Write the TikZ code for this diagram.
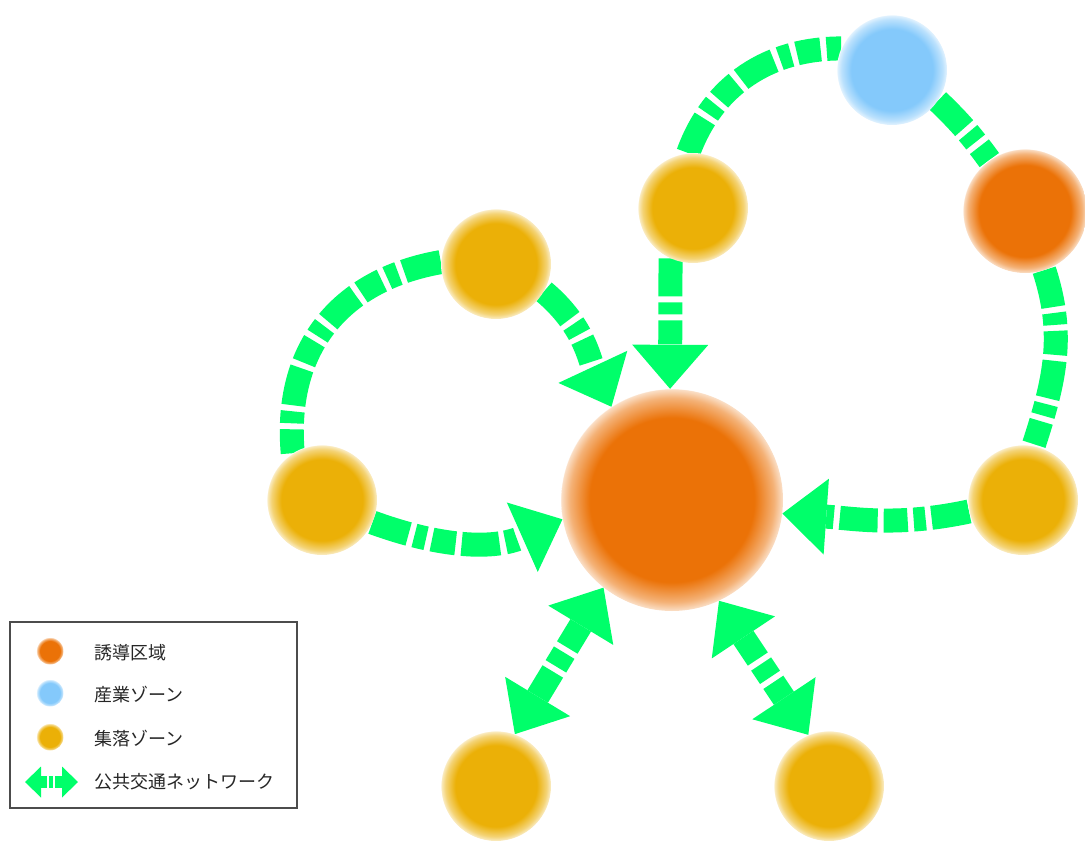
\documentclass[tikz,border=0pt]{standalone}
\usepackage{fontspec}
\newfontfamily\jpfont{Noto Sans CJK JP}
\usetikzlibrary{arrows.meta,backgrounds}

\definecolor{netgreen}{HTML}{00FF6A}
\definecolor{hubcol}{HTML}{EB7207}
\definecolor{vilcol}{HTML}{EBB007}
\definecolor{indcol}{HTML}{84C9FB}

\pgfdeclareradialshading{hubglow}{\pgfpoint{0bp}{0bp}}{color(0bp)=(hubcol); color(18.5bp)=(hubcol); color(23bp)=(hubcol!55!white); color(25bp)=(hubcol!22!white); color(25.2bp)=(white); color(50bp)=(white)}
\pgfdeclareradialshading{vilglow}{\pgfpoint{0bp}{0bp}}{color(0bp)=(vilcol); color(18.5bp)=(vilcol); color(23bp)=(vilcol!55!white); color(25bp)=(vilcol!22!white); color(25.2bp)=(white); color(50bp)=(white)}
\pgfdeclareradialshading{indglow}{\pgfpoint{0bp}{0bp}}{color(0bp)=(indcol); color(18.5bp)=(indcol); color(23bp)=(indcol!55!white); color(25bp)=(indcol!22!white); color(25.2bp)=(white); color(50bp)=(white)}

\begin{document}
\begin{tikzpicture}[x=1pt,y=-1pt,>={Triangle[width=76pt,length=44pt,line width=0pt]},
    net/.style={draw=netgreen,line width=24pt,dash pattern=on 38pt off 6pt on 12pt off 6pt on 24pt off 6pt},
    dbl/.style={draw=netgreen,line width=24pt,dash pattern=on 26pt off 6pt on 16pt off 6pt on 80pt off 0pt}]
    \tikzstyle{zone}=[circle,inner sep=0pt,minimum size=110pt,shade]
    \tikzstyle{hubzone}=[zone,shading=hubglow]
    \tikzstyle{vilzone}=[zone,shading=vilglow]
    \tikzstyle{indzone}=[zone,shading=indglow]
    \tikzstyle{legtext}=[anchor=west,inner sep=0pt,font=\jpfont\fontsize{18}{20}\selectfont,text=black!85]

    \useasboundingbox (0,0) rectangle (1085,841);

    % zones
    \node[hubzone,minimum size=222pt] (hub) at (672,500) {};
    \node[vilzone] (vnw) at (496,264) {};
    \node[vilzone] (vw)  at (322,500) {};
    \node[vilzone] (vn)  at (693,208) {};
    \node[indzone] (ind) at (892,70)  {};
    \node[hubzone,minimum size=124pt] (ne) at (1025,211) {};
    \node[vilzone] (ve)  at (1023,500) {};
    \node[vilzone] (vsw) at (496,786) {};
    \node[vilzone] (vse) at (829,786) {};

    % public transport network
    \begin{scope}[on background layer]
    \draw[net,->] (vw.-24) to[out=-20,in=204] (hub.190);
    \draw[net] (vnw.178) to[out=190,in=95,looseness=1.1] (vw.122);
    \draw[net,->] (vnw.-30) to[out=-40,in=115] (hub.123);
    \draw[net,->] (vn.-114) -- (hub.91);
    \draw[net] (vn.95) to[out=70,in=180] (ind.157);
    \draw[net] (ind.-34) to[bend left=5] (ne.125);
    \draw[net] (ne.-72) to[out=-72,in=72] (ve.79);
    \draw[net,->] (ve.192) to[out=192,in=-4] (hub.-7);
    \draw[dbl,<->] (hub.232) -- (vsw.70);
    \draw[dbl,<->] (hub.-65) -- (vse.112);
    \end{scope}

    % legend
    \draw[black!70,line width=1.6pt] (10,622) rectangle (297,808);
    \node[hubzone,minimum size=27pt] (lhub) at (50,651) {};
    \node[indzone,minimum size=27pt] (lind) at (50,693) {};
    \node[vilzone,minimum size=27pt] (lvil) at (50,737) {};
    \coordinate (la) at (25,782);
    \coordinate (lb) at (78,782);
    \draw[draw=netgreen,line width=12pt,dash pattern=on 6pt off 2pt on 4pt off 2pt on 20pt off 0pt,
        {Triangle[width=31pt,length=16pt,line width=0pt]}-{Triangle[width=31pt,length=16pt,line width=0pt]}] (la) -- (lb);
    \node[legtext] (t1) at (94,653) {誘導区域};
    \node[legtext] (t2) at (94,695) {産業ゾーン};
    \node[legtext] (t3) at (94,739) {集落ゾーン};
    \node[legtext] (t4) at (94,782) {公共交通ネットワーク};
\end{tikzpicture}
\end{document}
